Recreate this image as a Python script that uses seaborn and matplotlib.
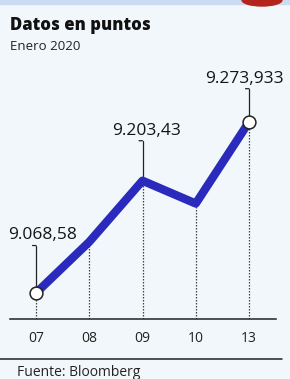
import matplotlib
matplotlib.use("Agg")
import matplotlib.pyplot as plt
import seaborn as sns
import pandas as pd
from matplotlib.patches import Rectangle, Ellipse

# data (Enero 2020, puntos)
dias = ["07", "08", "09", "10", "13"]
valores = [9068.58, 9130.0, 9203.43, 9176.0, 9273.933]
etiquetas = {0: "9.068,58", 2: "9.203,43", 4: "9.273,933"}
# label height above the point (in points of the index)
alto_etiqueta = {0: 57, 2: 48, 4: 40}
despl_etiqueta = {0: 5, 2: 3, 4: -3}

df = pd.DataFrame({"pos": range(len(dias)), "dia": dias, "valor": valores})

sns.set_style("white")
plt.rcParams["font.family"] = ["Open Sans", "DejaVu Sans"]

bg = "#f1f7fa"
W, H = 290, 379
fig = plt.figure(figsize=(W / 100, H / 100), dpi=100, facecolor=bg)

# scanned page remnants on top
fig.patches.append(Rectangle((0, 1 - 4 / H), 1, 4 / H, transform=fig.transFigure,
                             color="#c9dcf2", zorder=0))
fig.patches.append(Ellipse((262 / W, 1), 40 / W, 12 / H, transform=fig.transFigure,
                           color="#b3241c", zorder=1))

# axes: baseline at y=319px, x from 10 to 276 px
left, right, top, bottom = 10, 276, 60, 319
ax = fig.add_axes([left / W, 1 - bottom / H, (right - left) / W, (bottom - top) / H])
ax.set_facecolor("none")

px_x = 213 / 4          # px per category step
px_y = 171 / (valores[-1] - valores[0])  # px per index point
ax.set_xlim(-(36 - left) / px_x, 4 + (right - 249) / px_x)
ax.set_ylim(valores[0] - (bottom - 293) / px_y, valores[0] + (293 - top) / px_y)

# dotted drop lines
y0 = ax.get_ylim()[0]
ax.vlines(df["pos"], y0, df["valor"], colors="#444444", linestyles=(0, (1.2, 1.2)),
          linewidth=0.9, zorder=1)

sns.lineplot(data=df, x="pos", y="valor", ax=ax, color="#2a2abd", linewidth=6,
             solid_capstyle="butt", zorder=3)

# leader lines and labels
for i, txt in etiquetas.items():
    v = valores[i]
    ytop = v + alto_etiqueta[i]
    ax.plot([i, i], [v, ytop], color="#222222", linewidth=0.9, zorder=2)
    ax.annotate("", xy=(i, ytop), xytext=(-2.5, 0), textcoords="offset points",
                arrowprops=dict(arrowstyle="-", color="#222222", lw=0.9,
                                shrinkA=0, shrinkB=0))
    ax.annotate(txt, xy=(i, ytop), xytext=(despl_etiqueta[i], 1.5),
                textcoords="offset points", ha="center", va="bottom",
                fontsize=12.5, color="#151515")

ends = df.iloc[[0, -1]]
ax.scatter(ends["pos"], ends["valor"], s=85, facecolor="white", edgecolor="#222222",
           linewidth=1.1, zorder=4)

sns.despine(ax=ax, left=True, top=True, right=True)
ax.spines["bottom"].set_color("#222222")
ax.spines["bottom"].set_linewidth(1.1)
ax.set_yticks([])
ax.set_xticks(df["pos"])
ax.set_xticklabels(dias, fontsize=10, color="#222222")
ax.tick_params(axis="x", length=0, pad=9)
ax.set_xlabel("")
ax.set_ylabel("")

# titles and footer
fig.text(10 / W, 1 - 25 / H, "Datos en puntos", fontsize=12, fontweight="heavy",
         color="#111111", va="center", ha="left")
fig.text(10 / W, 1 - 47 / H, "Enero 2020", fontsize=9.5, color="#222222",
         va="center", ha="left")
fig.add_artist(plt.Line2D([0, 282 / W], [1 - 359 / H, 1 - 359 / H],
                          color="#222222", linewidth=1.1))
fig.text(17 / W, 1 - 372 / H, "Fuente: Bloomberg", fontsize=10, color="#222222",
         va="center", ha="left")

fig.savefig("out.png", dpi=100, facecolor=bg)
